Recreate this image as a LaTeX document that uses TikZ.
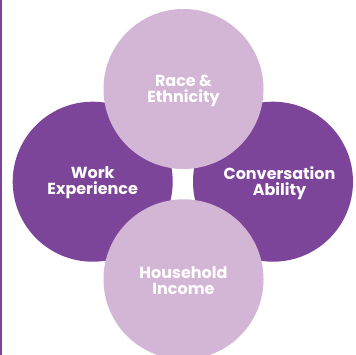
\documentclass[tikz,border=0pt]{standalone}
\usepackage{fontspec}
\setmainfont{Poppins}
\definecolor{darkp}{RGB}{125,69,153}
\definecolor{lightp}{RGB}{211,181,213}
\begin{document}
\begin{tikzpicture}[x=1pt,y=-1pt,
  dcirc/.style={circle,fill=darkp,minimum size=160pt,inner sep=0pt},
  lcirc/.style={circle,fill=lightp,minimum size=160pt,inner sep=0pt},
  lbl/.style={text=white,font=\fontsize{16}{15.8}\selectfont\bfseries,align=center,inner sep=0pt}]
\useasboundingbox (0,0) rectangle (356,355);
\fill[white] (0,0) rectangle (356,355);
\begin{scope}
\clip (0,0) rectangle (356,355);
\node[dcirc] (work) at (92.7,181.7) {};
\node[dcirc] (conv) at (273,181.7) {};
\node[lcirc] (race) at (183.5,89) {};
\node[lcirc] (house) at (183.5,279.3) {};
\end{scope}
\fill[darkp] (0,0) rectangle (1.5,355);
\node[lbl] (tw) at (92.7,183) {Work\\Experience};
\node[lbl] (tc) at (279.5,183) {Conversation\\Ability};
\node[lbl] (tr) at (183.5,90.5) {Race \&\\Ethnicity};
\node[lbl] (th) at (183.5,280.5) {Household\\Income};
\end{tikzpicture}
\end{document}
